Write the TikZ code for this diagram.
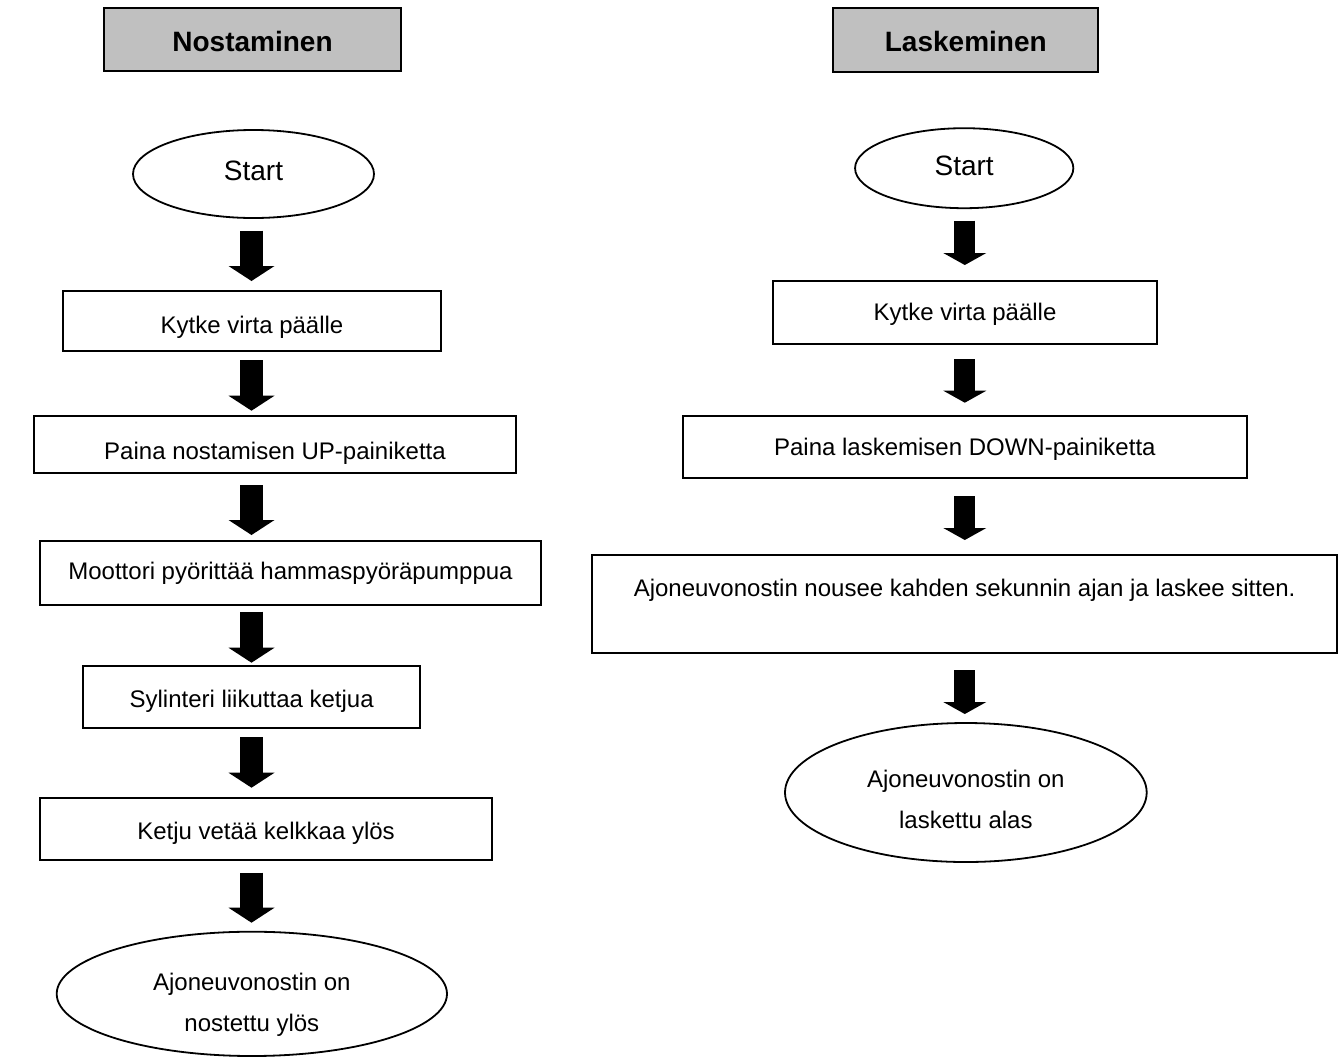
\documentclass[tikz,border=0pt]{standalone}
\usepackage{fontspec}
\setmainfont{Liberation Sans}
\usetikzlibrary{arrows.meta,shapes.geometric}
\definecolor{hdrgray}{RGB}{192,192,192}
\begin{document}
\begin{tikzpicture}[x=0.5pt,y=-0.5pt,
  every node/.style={inner sep=0pt, outer sep=0pt},
  hdr/.style={draw, line width=1pt, fill=hdrgray, font=\bfseries\fontsize{14}{16.8}\selectfont, text depth=0pt},
  stepbox/.style={draw, line width=1pt, font=\fontsize{12}{14.4}\selectfont, text depth=2.5pt},
  term/.style={draw, ellipse, line width=0.9pt},
  starttxt/.style={font=\fontsize{14}{16.8}\selectfont, text depth=0pt},
  termtxt/.style={font=\fontsize{12}{20.6}\selectfont, align=center, anchor=north},
  fatL/.style={line width=11.5pt, -{Triangle[length=7.5pt,width=23pt,line width=0pt]}},
  fatR/.style={line width=10.5pt, -{Triangle[length=6pt,width=21.5pt,line width=0pt]}}
]
\useasboundingbox[fill=white] (0,0) rectangle (1343,1061);

% headers
\node[hdr, minimum width=148.5pt, minimum height=31.2pt, text height=12.2pt] (hdrL) at (252.5,39.5) {Nostaminen};
\node[hdr, minimum width=132.5pt, minimum height=31.7pt, text height=11.7pt] (hdrR) at (965.8,40) {Laskeminen};

% left column
\node[term, starttxt, minimum width=120.5pt, minimum height=44pt, text height=6pt] (startL) at (253.5,174) {Start};
\node[stepbox, minimum width=188.7pt, minimum height=30pt, text height=14.8pt] (b1) at (252,321) {Kytke virta päälle};
\node[stepbox, minimum width=241pt, minimum height=28.65pt, text height=16.9pt] (b2) at (275,444.65) {Paina nostamisen UP-painiketta};
\node[stepbox, minimum width=250.5pt, minimum height=32.15pt, text height=8.7pt] (b3) at (290.5,572.85) {Moottori pyörittää hammaspyöräpumppua};
\node[stepbox, minimum width=168.35pt, minimum height=31.15pt, text height=13pt] (b4) at (251.65,697.15) {Sylinteri liikuttaa ketjua};
\node[stepbox, minimum width=226pt, minimum height=30.85pt, text height=13.3pt] (b5) at (266,829.15) {Ketju vetää kelkkaa ylös};
\node[term, minimum width=195.15pt, minimum height=62.15pt] (endL) at (251.85,993.85) {};
\node[termtxt] (endLt) at (251.85,973.3) {Ajoneuvonostin on\\nostettu ylös};

% right column
\node[term, starttxt, minimum width=109.15pt, minimum height=40pt, text height=6.8pt] (startR) at (964.2,168.2) {Start};
\node[stepbox, minimum width=191.7pt, minimum height=31.65pt, text height=10.9pt] (r1) at (965,312.35) {Kytke virta päälle};
\node[stepbox, minimum width=282.15pt, minimum height=31.15pt, text height=11.3pt] (r2) at (964.85,447.15) {Paina laskemisen DOWN-painiketta};
\node[stepbox, minimum width=372.35pt, minimum height=48.85pt, text height=8.6pt, text depth=16.45pt] (r3) at (964.65,603.85) {Ajoneuvonostin nousee kahden sekunnin ajan ja laskee sitten.};
\node[term, minimum width=180.85pt, minimum height=69.5pt] (endR) at (965.85,792.5) {};
\node[termtxt] (endRt) at (965.85,770) {Ajoneuvonostin on\\laskettu alas};

% arrow columns
\coordinate (colL) at (251.5,0);
\coordinate (colR) at (964.8,0);

\draw[fatL, shorten <=6.35pt, shorten >=5pt]    (startL.south -| colL) -- (b1.north -| colL);
\draw[fatL, shorten <=4.5pt,  shorten >=2.65pt] (b1.south -| colL) -- (b2.north -| colL);
\draw[fatL, shorten <=5.85pt, shorten >=2.85pt] (b2.south -| colL) -- (b3.north -| colL);
\draw[fatL, shorten <=3.35pt, shorten >=1.65pt] (b3.south -| colL) -- (b4.north -| colL);
\draw[fatL, shorten <=4.35pt, shorten >=5.3pt]  (b4.south -| colL) -- (b5.north -| colL);
\draw[fatL, shorten <=6.35pt, shorten >=4.5pt]  (b5.south -| colL) -- (endL.north -| colL);

\draw[fatR, shorten <=6.25pt, shorten >=7.85pt] (startR.south -| colR) -- (r1.north -| colR);
\draw[fatR, shorten <=7.5pt,  shorten >=6.65pt] (r1.south -| colR) -- (r2.north -| colR);
\draw[fatR, shorten <=8.85pt, shorten >=7.5pt]  (r2.south -| colR) -- (r3.north -| colR);
\draw[fatR, shorten <=8.65pt, shorten >=4.5pt]  (r3.south -| colR) -- (endR.north -| colR);
\end{tikzpicture}
\end{document}
